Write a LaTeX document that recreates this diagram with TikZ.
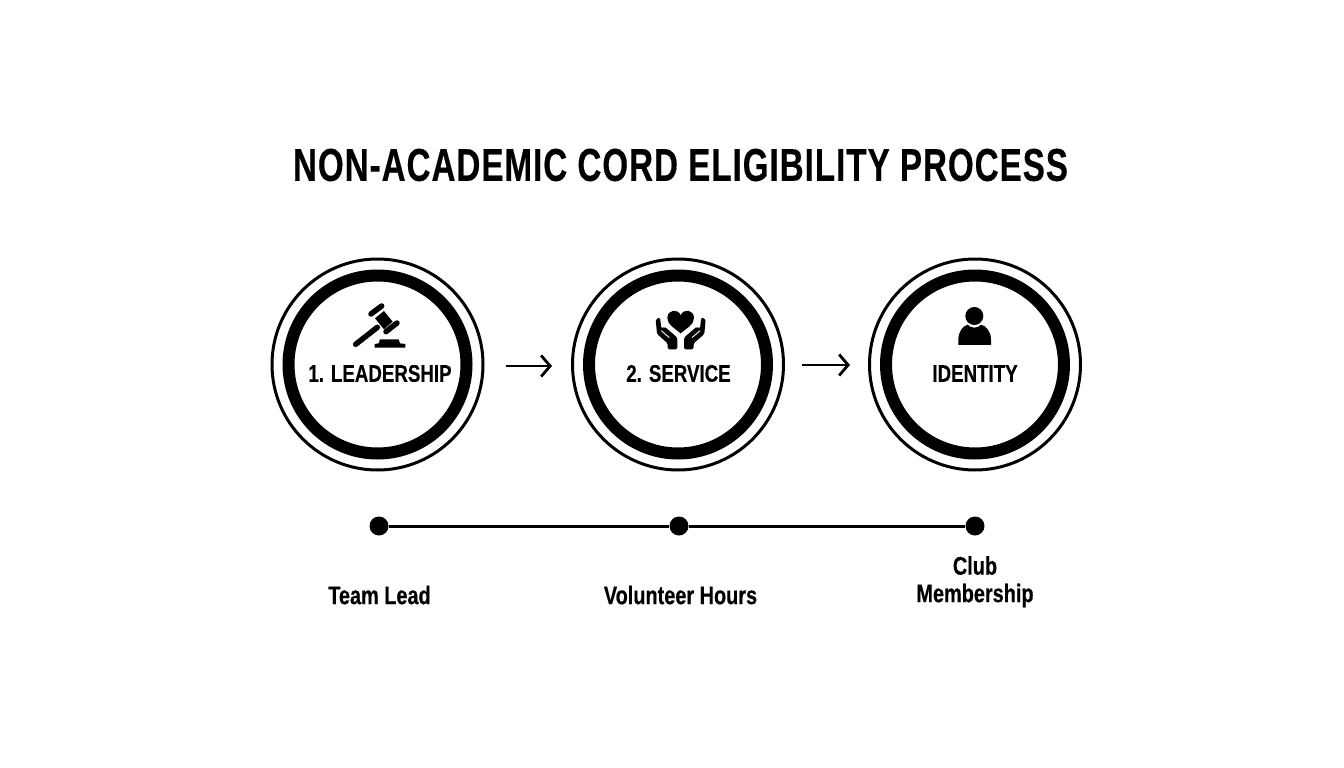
\documentclass[tikz,border=0pt]{standalone}
\usepackage{fontspec}
\setmainfont{Liberation Sans}[FakeStretch=0.78,BoldFeatures={FakeBold=0.4}]
\newfontfamily\titlefont{Liberation Sans}[FakeStretch=0.72,LetterSpace=2.2,UprightFeatures={FakeBold=0.4},BoldFeatures={FakeBold=0.4}]
\usetikzlibrary{arrows.meta}

\begin{document}
\begin{tikzpicture}[x=1pt,y=-1pt]
    \tikzset{outerring/.style = {shape=circle, draw, line width=3pt, inner sep=0pt, minimum size=211pt}}
    \tikzset{innerring/.style = {shape=circle, draw, line width=12pt, inner sep=0pt, minimum size=178pt}}
    \tikzset{dot/.style = {shape=circle, fill=black, inner sep=0pt, minimum size=19pt}}
    \tikzset{steptext/.style = {font=\bfseries\fontsize{24}{24}\selectfont}}
    \tikzset{milestone/.style = {font=\bfseries\fontsize{25.5}{27.5}\selectfont, align=center}}
    \tikzset{flow/.style = {line width=2.8pt, -{Straight Barb[length=9pt,width=21pt,line width=2.8pt]}, shorten <=21pt}}
    \useasboundingbox (0,0) rectangle (1344,768);
    % title
    \node[font=\titlefont\bfseries\fontsize{46}{46}\selectfont] (title) at (680.5,165) {NON-ACADEMIC CORD ELIGIBILITY PROCESS};
    % circles
    \node[outerring] (lead) at (377.5,364.5) {};
    \node[innerring] (leadin) at (377.5,364.5) {};
    \node[outerring] (service) at (678,364.5) {};
    \node[innerring] (servicein) at (678,364.5) {};
    \node[outerring] (identity) at (975,364.5) {};
    \node[innerring] (identityin) at (975,364.5) {};
    % circle texts
    \node[steptext] (leadtext) at (380,373.5) {1. LEADERSHIP};
    \node[steptext] (servicetext) at (678.5,373.5) {2. SERVICE};
    \node[steptext] (identitytext) at (975,373.5) {IDENTITY};
    % gavel
    \begin{scope}[shift={(260,250)},scale=0.3333]
        \draw[line width=5.5pt,line cap=round] (287,283) -- (352,232);
        \draw[line width=5.5pt,line cap=round] (333,192) -- (365,168);
        \draw[line width=5.5pt,line cap=round] (378,245) -- (411,219);
        \fill (345,205) -- (372,183) -- (398,215) -- (372,238) -- cycle;
        \fill (360,268) -- (416,268) -- (420,280) -- (436,282) -- (436,293) -- (344,293) -- (344,282) -- (356,280) -- cycle;
    \end{scope}
    % heart and hands
    \begin{scope}[shift={(620,290)},scale=0.3333]
        \fill (182,130) .. controls (165,115) and (142,105) .. (142,84) .. controls (142,58) and (175,55) .. (182,76) .. controls (189,55) and (222,58) .. (222,84) .. controls (222,105) and (199,115) .. (182,130) -- cycle;
        \foreach \side/\mid in {1/0,-1/364} {
            \begin{scope}[shift={(\mid,0)},xscale=\side]
                \fill[rounded corners=1.5pt] (107,88) -- (120,82) -- (124,116) -- (134,110) -- (172,143) -- (172,178) -- (143,178) -- (143,160) -- (111,132) -- cycle;
                \draw[white,line width=0.9pt] (124,122) -- (148,143);
            \end{scope}
        }
    \end{scope}
    % person
    \begin{scope}[shift={(920,290)},scale=0.3333]
        \fill (163,78) circle (27);
        \fill (115,165) -- (115,150) .. controls (115,125) and (128,108) .. (143,104) .. controls (152,116) and (174,116) .. (183,104) .. controls (200,108) and (213,125) .. (213,150) -- (213,165) -- cycle;
    \end{scope}
    % arrows
    \draw[flow,shorten >=19pt] ([yshift=-1.5pt]lead.east) to ([yshift=-1.5pt]service.west);
    \draw[flow,shorten >=18pt,shorten <=17pt] ([yshift=-0.5pt]service.east) to ([yshift=-0.5pt]identity.west);
    % timeline
    \node[dot] (dota) at (379,526) {};
    \node[dot] (dotb) at (679,526) {};
    \node[dot] (dotc) at (975,526) {};
    \draw[line width=3pt] (dota) to (dotb);
    \draw[line width=3pt] (dotb) to (dotc);
    % timeline labels
    \node[milestone] (teamlead) at (379.5,595) {Team Lead};
    \node[milestone] (hours) at (680.5,595) {Volunteer Hours};
    \node[milestone,anchor=south] (club) at (975,611) {Club\\Membership};
\end{tikzpicture}
\end{document}
